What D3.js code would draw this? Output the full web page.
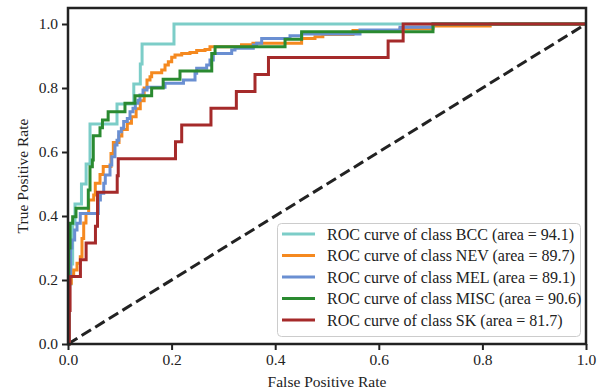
<!DOCTYPE html>
<html>
<head>
<meta charset="utf-8">
<script src="https://cdn.jsdelivr.net/npm/d3@7"></script>
<style>
  body { margin: 0; background: #fff; }
  text { font-family: "Liberation Serif", "DejaVu Serif", serif; fill: #222; }
</style>
</head>
<body>
<div id="chart"></div>
<script>
// ROC step points: [fpr where tpr jumps, new tpr]
var bcc = [[0,0],[0.002,0.1875],[0.006,0.25],[0.009,0.375],[0.0135,0.4375],[0.026,0.5],[0.035,0.5625],[0.0425,0.6875],
  [0.0946,0.75],[0.127,0.8125],[0.1396,0.875],[0.143,0.9375],[0.2046,1],[1,1]];
var nev = [[0,0],[0.0015,0.19],[0.0064,0.216],[0.011,0.231],[0.0174,0.252],[0.0237,0.273],[0.027,0.33],[0.0303,0.378],
  [0.0347,0.408],[0.0399,0.45],[0.0496,0.466],[0.0527,0.502],[0.0618,0.53],[0.068,0.555],[0.083,0.595],[0.0875,0.63],
  [0.0985,0.65],[0.104,0.67],[0.1145,0.69],[0.1225,0.71],[0.1315,0.735],[0.1395,0.76],[0.147,0.8],[0.1525,0.825],
  [0.1583,0.835],[0.1615,0.848],[0.1809,0.856],[0.1873,0.872],[0.1937,0.882],[0.2002,0.896],[0.2066,0.903],
  [0.2195,0.908],[0.2355,0.911],[0.2484,0.917],[0.2645,0.92],[0.2741,0.929],[0.335,0.935],[0.357,0.94],
  [0.451,0.955],[0.4768,0.96],[0.492,0.967],[0.5502,0.98],[0.641,0.985],[0.7046,0.994],[0.815,1],[1,1]];
var mel = [[0,0],[0.002,0.22],[0.005,0.3],[0.0077,0.325],[0.0129,0.356],[0.0174,0.377],[0.0237,0.408],[0.0586,0.45],
  [0.0625,0.471],[0.069,0.502],[0.072,0.528],[0.0811,0.559],[0.0845,0.585],[0.0907,0.622],[0.0946,0.637],
  [0.0978,0.663],[0.103,0.674],[0.1075,0.695],[0.1145,0.705],[0.1197,0.726],[0.1255,0.737],[0.13,0.752],
  [0.1351,0.762],[0.139,0.778],[0.1448,0.794],[0.1525,0.802],[0.1873,0.815],[0.2229,0.825],[0.2452,0.846],
  [0.2484,0.862],[0.2677,0.872],[0.2741,0.8875],[0.2805,0.908],[0.316,0.919],[0.3224,0.924],[0.3577,0.934],
  [0.3642,0.94],[0.3739,0.955],[0.4286,0.963],[0.4511,0.969],[0.5637,0.981],[0.6409,0.99],[0.7046,1],[1,1]];
var misc = [[0,0],[0.0015,0.3],[0.004,0.377],[0.009,0.398],[0.0154,0.424],[0.0392,0.481],[0.0425,0.554],[0.047,0.575],
  [0.0488,0.651],[0.0618,0.676],[0.0665,0.7],[0.0775,0.726],[0.11,0.752],[0.1293,0.776],[0.1615,0.8],[0.1837,0.827],
  [0.2162,0.853],[0.2775,0.879],[0.2775,0.908],[0.2839,0.929],[0.419,0.952],[0.451,0.976],[0.7046,1],[1,1]];
var sk = [[0,0],[0.0025,0.105],[0.004,0.211],[0.024,0.263],[0.035,0.316],[0.053,0.368],[0.057,0.474],[0.095,0.526],
  [0.097,0.579],[0.2075,0.632],[0.2195,0.684],[0.276,0.737],[0.325,0.789],[0.361,0.842],[0.387,0.895],
  [0.618,0.947],[0.647,1],[1,1]];

var classNames = ["BCC", "NEV", "MEL", "MISC", "SK"];
var areas = ["94.1", "89.7", "89.1", "90.6", "81.7"];
var colors = ["#7ccdc8", "#f5891f", "#6a8fd2", "#2a8a30", "#a52a2a"];
var curves = [bcc, nev, mel, misc, sk];
var xTicks = [0, 0.2, 0.4, 0.6, 0.8, 1.0];
var yTicks = [0, 0.2, 0.4, 0.6, 0.8, 1.0];

var width = 605, height = 392;
var margin = {top: 8, right: 19, bottom: 48, left: 68};

var svg = d3.select("#chart").append("svg")
  .attr("width", width).attr("height", height);

var x = d3.scaleLinear().domain([0, 1]).range([margin.left, width - margin.right]);
var y = d3.scaleLinear().domain([0, 1.05]).range([height - margin.bottom, margin.top]);

// diagonal chance line
svg.append("line")
  .attr("x1", x(0)).attr("y1", y(0)).attr("x2", x(1)).attr("y2", y(1))
  .attr("stroke", "#222").attr("stroke-width", 3).attr("stroke-dasharray", "11,5");

var line = d3.line()
  .x(function(d) { return x(d[0]); })
  .y(function(d) { return y(d[1]); })
  .curve(d3.curveStepAfter);

curves.forEach(function(c, i) {
  svg.append("path")
    .datum(c)
    .attr("d", line)
    .attr("fill", "none")
    .attr("stroke", colors[i])
    .attr("stroke-width", 3);
});

// axes
var xAxis = svg.append("g")
  .attr("transform", "translate(0," + (height - margin.bottom) + ")")
  .call(d3.axisBottom(x).tickValues(xTicks).tickFormat(d3.format(".1f")).tickSize(6).tickPadding(4));
var yAxis = svg.append("g")
  .attr("transform", "translate(" + margin.left + ",0)")
  .call(d3.axisLeft(y).tickValues(yTicks).tickFormat(d3.format(".1f")).tickSize(6).tickPadding(4));
[xAxis, yAxis].forEach(function(a) {
  a.select(".domain").remove();
  a.selectAll(".tick line").attr("stroke", "#222").attr("stroke-width", 2);
  a.selectAll(".tick text").style("font-size", "15.5px").style("font-family", "Liberation Serif").attr("fill", "#222");
});

// frame
svg.append("rect")
  .attr("x", x(0)).attr("y", y(1.05))
  .attr("width", x(1) - x(0)).attr("height", y(0) - y(1.05))
  .attr("fill", "none").attr("stroke", "#222").attr("stroke-width", 2.5);

svg.append("text")
  .attr("x", (x(0) + x(1)) / 2).attr("y", 387)
  .attr("text-anchor", "middle").style("font-size", "15.5px")
  .text("False Positive Rate");
svg.append("text")
  .attr("transform", "translate(28," + ((y(0) + y(1.05)) / 2) + ") rotate(-90)")
  .attr("text-anchor", "middle").style("font-size", "15.5px")
  .text("True Positive Rate");

// legend
var lg = svg.append("g");
lg.append("rect")
  .attr("x", 277.5).attr("y", 223.5).attr("width", 303).attr("height", 113)
  .attr("rx", 4).attr("fill", "#fff").attr("fill-opacity", 0.8)
  .attr("stroke", "#ccc").attr("stroke-width", 1);
classNames.forEach(function(name, i) {
  var cy = 234 + i * 21.5;
  lg.append("line")
    .attr("x1", 282).attr("x2", 315).attr("y1", cy).attr("y2", cy)
    .attr("stroke", colors[i]).attr("stroke-width", 3);
  lg.append("text")
    .attr("x", 327).attr("y", cy).attr("dy", "0.35em")
    .style("font-size", "16px")
    .text("ROC curve of class " + name + " (area = " + areas[i] + ")");
});
</script>
</body>
</html>
